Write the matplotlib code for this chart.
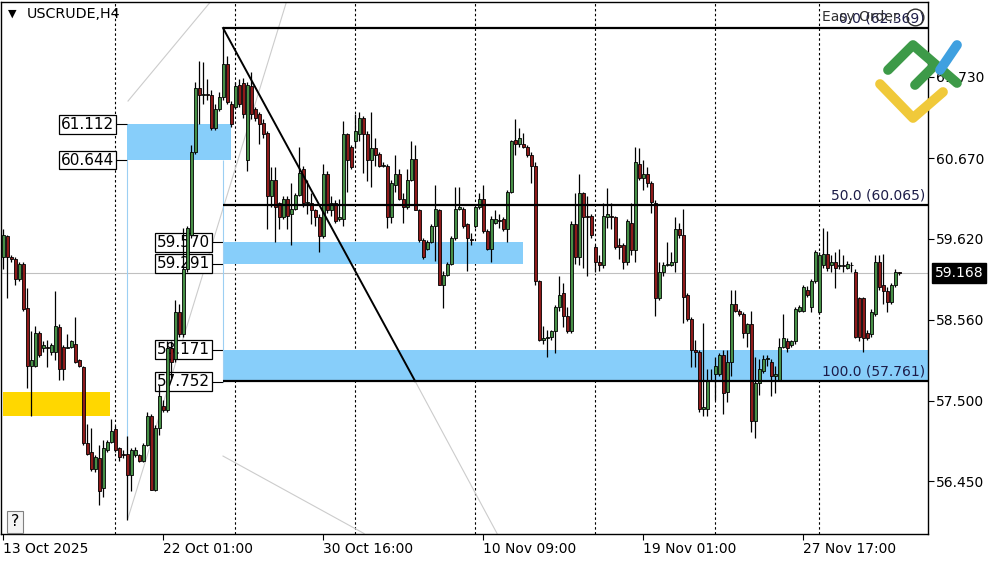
import matplotlib
matplotlib.use('Agg')
import matplotlib.pyplot as plt
import matplotlib.transforms as mtransforms
from matplotlib.lines import Line2D
from matplotlib.patches import Rectangle
import numpy as np

symbol = 'USCRUDE,H4'

# H4 bars, oldest first
opens = [
    59.38, 59.65, 59.38, 59.36, 59.09, 59.29, 58.72, 57.96, 57.96, 58.39,
    58.19, 58.21, 58.14, 58.14, 58.46, 58.21, 58.19, 58.21, 58.25, 58.03,
    57.94, 56.95, 56.83, 56.61, 56.75, 56.36, 56.86, 56.97, 57.13, 56.88,
    56.81, 56.81, 56.54, 56.79, 56.79, 56.72, 56.93, 57.31, 56.34, 57.15,
    57.44, 57.38, 58.19, 58.05, 58.66, 58.37, 59.22, 59.67, 60.75, 61.58,
    61.49, 61.51, 61.49, 61.07, 61.31, 61.47, 61.90, 61.38, 61.34, 61.63,
    61.65, 60.64, 61.61, 61.31, 61.25, 61.13, 61.00, 60.17, 60.39, 60.08,
    59.90, 60.14, 59.94, 60.01, 60.19, 60.53, 60.08, 60.08, 59.99, 59.90,
    59.65, 60.46, 59.99, 60.08, 59.88, 59.87, 60.98, 60.82, 60.89, 60.98,
    61.20, 60.98, 60.64, 60.80, 60.73, 60.57, 60.57, 59.90, 60.32, 60.46,
    60.14, 60.03, 60.39, 60.66, 59.99, 59.60, 59.49, 59.58, 59.78, 59.99,
    59.02, 59.15, 59.29, 59.63, 60.01, 60.01, 59.81, 59.62, 59.78, 60.03,
    60.14, 59.72, 59.49, 59.83, 59.86, 59.87, 59.74, 60.23, 60.91, 60.86,
    60.86, 60.82, 60.71, 60.57, 59.06, 58.30, 58.32, 58.34, 58.41, 58.73,
    58.91, 58.61, 58.41, 59.81, 59.38, 60.21, 59.92, 59.92, 59.51, 59.31,
    59.27, 59.90, 59.92, 59.90, 59.54, 59.54, 59.31, 59.83, 59.47, 60.59,
    60.41, 60.46, 60.35, 60.08, 58.84, 59.18, 59.27, 59.27, 59.31, 59.74,
    59.67, 58.88, 58.57, 58.16, 58.14, 57.40, 57.40, 57.76, 57.85, 57.85,
    58.10, 57.62, 58.01, 58.77, 58.68, 58.64, 58.39, 58.50, 57.24, 57.73,
    57.89, 58.05, 58.01, 57.83, 57.78, 58.21, 58.28, 58.23, 58.28, 58.68,
    58.68, 58.95, 58.73, 59.06, 58.66, 59.27, 59.42, 59.27, 59.31, 59.26,
    59.27, 59.24, 59.28, 59.18, 58.84, 58.84, 58.39, 58.37, 58.64, 59.31,
    59.02, 58.93, 58.79, 59.02, 59.18,
]
highs = [
    59.74, 59.67, 59.40, 59.38, 59.31, 59.31, 58.97, 58.41, 58.48, 58.41,
    58.28, 58.30, 58.26, 58.93, 58.50, 58.23, 58.37, 58.30, 58.59, 58.05,
    57.96, 57.20, 57.15, 56.79, 56.93, 56.99, 56.99, 57.26, 57.17, 56.90,
    56.86, 57.04, 56.88, 56.90, 56.81, 56.95, 57.35, 57.33, 57.19, 57.71,
    57.51, 58.28, 58.28, 58.82, 58.77, 59.76, 59.78, 60.84, 61.67, 61.94,
    61.92, 61.70, 61.56, 61.38, 61.54, 62.37, 62.01, 61.42, 61.67, 61.70,
    61.72, 61.67, 61.79, 61.34, 61.27, 61.18, 61.02, 60.55, 60.55, 60.10,
    60.17, 60.17, 60.35, 60.21, 60.82, 60.57, 60.39, 60.21, 60.01, 59.94,
    60.59, 60.50, 60.17, 60.12, 60.14, 61.16, 61.00, 60.84, 61.25, 61.27,
    61.22, 61.02, 61.27, 60.93, 60.75, 60.62, 60.59, 60.39, 60.71, 60.53,
    60.21, 60.53, 60.89, 60.84, 60.01, 59.63, 59.60, 59.81, 60.32, 60.01,
    59.20, 59.31, 59.65, 60.30, 60.30, 60.03, 59.83, 59.69, 60.05, 60.21,
    60.32, 59.74, 59.92, 59.99, 59.94, 59.90, 60.26, 60.91, 61.18, 61.07,
    61.00, 60.84, 60.75, 60.62, 59.08, 58.48, 58.43, 58.43, 58.75, 59.13,
    59.04, 58.73, 59.85, 60.21, 60.46, 60.23, 60.17, 59.94, 59.54, 59.40,
    60.08, 60.28, 60.08, 59.92, 59.63, 59.56, 59.87, 60.08, 60.82, 60.80,
    60.64, 60.55, 60.37, 60.12, 59.31, 59.31, 59.58, 59.45, 59.90, 59.83,
    60.01, 58.91, 58.59, 58.30, 58.16, 58.52, 57.92, 57.92, 58.07, 58.12,
    58.16, 58.16, 58.95, 58.95, 58.70, 58.66, 58.52, 58.68, 58.07, 58.05,
    58.10, 58.10, 58.05, 57.96, 58.32, 58.64, 58.32, 58.30, 58.73, 58.75,
    59.02, 59.00, 59.09, 59.47, 59.45, 59.76, 59.72, 59.40, 59.45, 59.49,
    59.40, 59.33, 59.31, 59.22, 58.86, 58.86, 58.43, 58.70, 59.40, 59.40,
    59.42, 58.99, 59.04, 59.22, 59.19,
]
lows = [
    59.22, 58.84, 59.31, 59.02, 59.06, 58.68, 57.67, 57.31, 57.94, 58.07,
    58.14, 57.94, 58.10, 58.03, 57.78, 57.78, 58.19, 58.19, 58.00, 57.94,
    56.92, 56.79, 56.59, 56.57, 56.14, 56.25, 56.84, 56.95, 56.84, 56.72,
    56.75, 55.94, 56.32, 56.77, 56.70, 56.70, 56.91, 56.34, 56.32, 57.06,
    57.35, 57.35, 57.80, 58.01, 58.34, 58.34, 59.18, 59.63, 60.73, 61.11,
    61.38, 61.43, 61.04, 61.04, 61.29, 61.43, 61.38, 61.08, 61.31, 61.34,
    61.20, 60.50, 61.18, 61.16, 60.86, 60.93, 59.74, 60.03, 59.58, 59.74,
    59.88, 59.74, 59.54, 59.99, 60.17, 60.03, 59.94, 59.81, 59.78, 59.45,
    59.63, 59.96, 59.92, 59.83, 59.85, 59.78, 60.23, 60.53, 60.80, 60.89,
    60.48, 60.37, 60.30, 60.57, 60.55, 60.55, 59.76, 59.83, 60.23, 60.12,
    59.83, 60.01, 60.37, 59.99, 59.58, 59.36, 59.47, 59.56, 59.33, 59.02,
    58.72, 59.13, 59.27, 59.60, 59.99, 59.76, 59.20, 59.54, 59.76, 60.01,
    59.69, 59.47, 59.31, 59.81, 59.76, 59.72, 59.58, 60.21, 60.71, 60.82,
    60.80, 60.68, 60.35, 59.02, 58.28, 58.25, 58.07, 58.30, 58.12, 58.68,
    58.46, 58.39, 58.39, 59.29, 59.27, 59.24, 59.13, 59.63, 59.18, 59.20,
    59.24, 59.76, 59.74, 59.49, 59.36, 59.22, 59.27, 59.40, 59.31, 60.39,
    60.26, 60.30, 59.96, 58.61, 58.82, 59.13, 59.26, 59.26, 59.18, 59.63,
    58.52, 58.54, 57.94, 57.94, 57.35, 57.31, 57.31, 57.76, 57.51, 57.83,
    57.33, 57.49, 57.82, 58.66, 58.61, 58.32, 58.21, 57.10, 57.02, 57.58,
    57.87, 57.96, 57.56, 57.60, 57.76, 58.19, 58.14, 58.21, 58.25, 58.66,
    58.66, 58.86, 58.66, 59.04, 58.64, 59.24, 59.20, 59.18, 58.97, 59.22,
    59.18, 59.22, 59.18, 58.32, 58.28, 58.14, 58.30, 58.34, 58.61, 58.95,
    58.77, 58.66, 58.77, 58.99, 59.15,
]
closes = [
    59.67, 59.38, 59.36, 59.09, 59.29, 58.70, 57.96, 58.03, 58.39, 58.10,
    58.23, 58.19, 58.23, 58.48, 57.92, 57.92, 58.21, 58.28, 58.01, 57.96,
    56.95, 56.81, 56.61, 56.77, 56.32, 56.88, 56.97, 57.11, 56.86, 56.77,
    56.80, 56.54, 56.86, 56.86, 56.72, 56.93, 57.31, 56.34, 57.15, 57.56,
    57.38, 58.19, 58.01, 58.66, 58.37, 59.22, 59.76, 60.75, 61.58, 61.49,
    61.51, 61.49, 61.07, 61.31, 61.47, 61.90, 61.40, 61.11, 61.61, 61.38,
    61.25, 61.63, 61.25, 61.20, 61.11, 60.98, 60.17, 60.39, 60.03, 59.90,
    60.14, 59.92, 60.01, 60.19, 60.48, 60.08, 60.10, 59.99, 59.90, 59.65,
    60.46, 59.99, 60.08, 59.85, 59.90, 60.98, 60.64, 60.55, 61.02, 61.20,
    60.98, 60.64, 60.80, 60.71, 60.57, 60.58, 59.90, 60.35, 60.46, 60.14,
    60.03, 60.39, 60.66, 59.99, 59.60, 59.38, 59.58, 59.78, 60.01, 59.02,
    59.15, 59.29, 59.63, 60.01, 60.03, 59.78, 59.63, 59.60, 60.03, 60.14,
    59.72, 59.49, 59.87, 59.87, 59.85, 59.74, 60.23, 60.89, 60.86, 60.93,
    60.82, 60.71, 60.57, 59.06, 58.30, 58.32, 58.34, 58.41, 58.73, 58.88,
    58.61, 58.41, 59.81, 59.38, 60.21, 59.90, 59.90, 59.67, 59.31, 59.27,
    59.92, 59.94, 59.90, 59.51, 59.51, 59.31, 59.85, 59.47, 60.62, 60.41,
    60.46, 60.35, 60.10, 58.84, 59.18, 59.27, 59.29, 59.31, 59.74, 59.67,
    58.86, 58.57, 58.16, 58.14, 57.40, 57.42, 57.76, 57.78, 57.96, 58.10,
    57.60, 58.01, 58.77, 58.68, 58.64, 58.39, 58.50, 57.24, 57.73, 57.92,
    58.05, 58.06, 57.83, 57.85, 58.21, 58.32, 58.19, 58.28, 58.70, 58.73,
    58.99, 58.88, 59.06, 59.45, 59.40, 59.42, 59.24, 59.31, 59.24, 59.27,
    59.26, 59.29, 59.27, 58.34, 58.34, 58.32, 58.32, 58.66, 59.31, 58.99,
    58.93, 58.79, 59.02, 59.18, 59.17,
]

date_ticks = [0, 40, 80, 120, 160, 200]
date_labels = ['13 Oct 2025', '22 Oct 01:00', '30 Oct 16:00',
               '10 Nov 09:00', '19 Nov 01:00', '27 Nov 17:00']
grid_bars = [28, 58, 88, 118, 148, 178, 204]
price_ticks = [61.730, 60.670, 59.620, 58.560, 57.500, 56.450]
last_price = 59.168

# fibonacci retracement: from the swing high bar to the 100% point
fib_bars = [55, 103]
fib_levels = [0.0, 50.0, 100.0]
fib_prices = [62.369, 60.065, 57.761]

# blue zones: start bar, end bar, low, high
zone_start = [31, 55, 55]
zone_end = [57, 130, 240]
zone_low = [60.644, 59.291, 57.752]
zone_high = [61.112, 59.570, 58.171]
# yellow zone
yellow_bars = [0, 26.75]
yellow_range = [57.304, 57.617]

XMIN, XMAX = -0.5, 231.1
YMIN, YMAX = 55.770, 62.715

fig = plt.figure(figsize=(10, 5.62), dpi=100, facecolor='white')
ax = fig.add_axes([0.001, 0.0507, 0.9265, 0.9466])
ax.set_xlim(XMIN, XMAX)
ax.set_ylim(YMIN, YMAX)


def px(x, y):
    # pixel position -> figure fraction
    return x / 1000, 1 - y / 562


# grid and current price line
for b in grid_bars:
    ax.axvline(b, color='black', lw=0.8, ls=(0, (2.2, 2.2)), zorder=1)
ax.axhline(last_price, color='#c0c0c0', lw=0.8, zorder=1.5)

# zones
for s, e, lo, hi in zip(zone_start, zone_end, zone_low, zone_high):
    ax.add_patch(Rectangle((s, lo), e - s, hi - lo, fc='#87cefa', ec='none', zorder=2))
    for p in (hi, lo):
        ax.hlines(p, s - 2.75, s, color='black', lw=0.8, zorder=2)
        ax.text(s - 3.2, p, f'{p:.3f}', ha='right', va='center', fontsize=11,
                bbox=dict(boxstyle='square,pad=0.12', fc='white', ec='black', lw=0.9),
                zorder=2.5)
ax.add_patch(Rectangle((yellow_bars[0], yellow_range[0]), yellow_bars[1] - yellow_bars[0],
                       yellow_range[1] - yellow_range[0], fc='#ffd700', ec='none', zorder=2))

# thin helper lines
ax.vlines(zone_start[0], 55.97, zone_low[0], color='#9ccff3', lw=0.8, zorder=2)
ax.vlines(zone_start[1], zone_low[2], zone_low[0], color='#9ccff3', lw=0.8, zorder=2)
gray = dict(color='#cccccc', lw=0.8, zorder=1.5)
ax.plot([31.25, 52.25], [61.416, 62.735], **gray)
ax.plot([31.25, 71.0], [55.972, 62.735], **gray)
ax.plot([55.0, 90.25], [56.781, 55.770], **gray)
ax.plot([fib_bars[1], 123.5], [fib_prices[2], 55.770], **gray)

# candles
x = np.arange(len(closes))
o = np.array(opens)
c = np.array(closes)
up = c >= o
ax.vlines(x, lows, highs, color='black', lw=0.9, zorder=3)
ax.bar(x[up], (c - o)[up], bottom=o[up], width=0.75, color='#468f46',
       edgecolor='black', lw=0.6, zorder=4)
ax.bar(x[~up], (o - c)[~up], bottom=c[~up], width=0.75, color='#8e1a1a',
       edgecolor='black', lw=0.6, zorder=4)

# fibonacci
ax.hlines(fib_prices, fib_bars[0], XMAX, color='black', lw=1.6, zorder=5)
ax.plot(fib_bars, [fib_prices[0], fib_prices[2]], color='black', lw=1.4, zorder=5)
for lvl, p in zip(fib_levels, fib_prices):
    ax.text(XMAX - 0.6, p + 0.03, f'{lvl:.1f} ({p:.3f})', ha='right', va='bottom',
            fontsize=10, color='#1c1c48', zorder=6)

# axes styling
ax.yaxis.tick_right()
ax.set_yticks(price_ticks)
ax.set_yticklabels([f'{p:.3f}' for p in price_ticks])
ax.set_xticks(date_ticks)
ax.set_xticklabels(date_labels, ha='left')
ax.tick_params(axis='both', length=4, width=0.8, pad=2, labelsize=10, colors='black')
for s in ax.spines.values():
    s.set_color('black')
    s.set_linewidth(1)

trans = mtransforms.blended_transform_factory(ax.transAxes, ax.transData)
ax.annotate(f'{last_price:.3f}', xy=(1, last_price), xycoords=trans, xytext=(5, 0),
            textcoords='offset points', ha='left', va='center', color='white', fontsize=10,
            bbox=dict(boxstyle='square,pad=0.2', fc='black', ec='black'),
            annotation_clip=False, zorder=7)

# header texts
fig.text(*px(8, 14), '\u25bc', fontsize=8, va='center', ha='left')
fig.text(*px(27, 14), symbol, fontsize=10.3, va='center', ha='left')
fig.text(*px(822, 17), 'Easy Order', fontsize=10, va='center', ha='left', color='#303030')
fig.add_artist(Line2D([0.915], [1 - 17 / 562], marker='o', ms=12, mfc='none', mec='#303030',
                      mew=1, transform=fig.transFigure))
fig.text(*px(15, 522), '?', fontsize=11.5, ha='center', va='center',
         bbox=dict(boxstyle='square,pad=0.25', fc='#f4f4f4', ec='#808080', lw=0.8))

# watermark logo
logo = [
    ([(888, 70), (913, 45), (957, 83)], '#3d9a48'),
    ([(915, 85), (933, 67)], '#3d9a48'),
    ([(940, 70), (957, 45)], '#3fa0e0'),
    ([(880, 84), (913, 118), (943, 92)], '#f0c93a'),
]
for pts, col in logo:
    xs = [px(a, b)[0] for a, b in pts]
    ys = [px(a, b)[1] for a, b in pts]
    fig.add_artist(Line2D(xs, ys, color=col, lw=7, solid_capstyle='round',
                          solid_joinstyle='round', transform=fig.transFigure, zorder=10))

fig.savefig('out.png', dpi=100, facecolor='white')
